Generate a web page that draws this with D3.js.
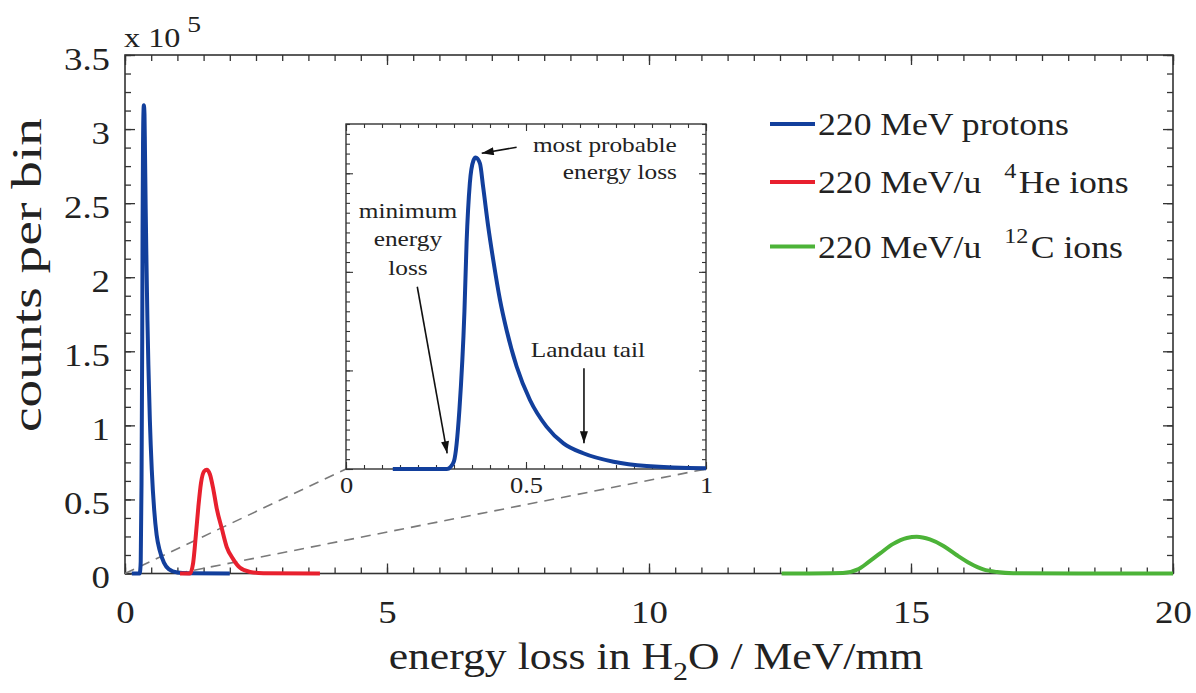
<!DOCTYPE html>
<html><head><meta charset="utf-8">
<script src="https://cdn.jsdelivr.net/npm/d3@7"></script>
<style>
body{margin:0;background:#fff}
svg{display:block}
text{font-family:"Liberation Serif","Times New Roman",serif;fill:#222}
</style>
</head><body>
<svg id="chart" width="1196" height="693"></svg>
<script>
// ---------------- data ----------------
const seriesNames = ["220 MeV protons", "220 MeV/u 4He ions", "220 MeV/u 12C ions"];
const seriesColors = ["#123f9c", "#e8202e", "#4cb338"];

// energy loss (MeV/mm) and counts per bin (x 10^5)
const protonsE      = [0.13, 0.28, 0.29, 0.30, 0.315, 0.329, 0.335, 0.344, 0.354, 0.36, 0.372, 0.381, 0.395, 0.409, 0.428, 0.446, 0.474, 0.511, 0.557, 0.604, 0.659, 0.743, 0.835, 1.0, 1.2, 2.0];
const protonsCounts = [0, 0, 0.02, 0.08, 0.6, 1.6, 2.3, 2.9, 3.13, 3.16, 3.10, 2.86, 2.46, 2.12, 1.71, 1.41, 1.04, 0.70, 0.43, 0.26, 0.16, 0.074, 0.03, 0.007, 0.002, 0];

const heliumE      = [1.05, 1.24, 1.30, 1.355, 1.40, 1.45, 1.51, 1.56, 1.62, 1.685, 1.75, 1.85, 1.94, 2.07, 2.19, 2.39, 2.64, 3.72];
const heliumCounts = [0, 0, 0.07, 0.27, 0.45, 0.61, 0.69, 0.70, 0.67, 0.57, 0.44, 0.30, 0.18, 0.094, 0.04, 0.01, 0.002, 0];

const carbonE      = [12.53, 13.7, 14.0, 14.2, 14.41, 14.66, 14.92, 15.11, 15.36, 15.62, 15.87, 16.13, 16.38, 16.64, 16.95, 20.0];
const carbonCounts = [0, 0.004, 0.03, 0.08, 0.136, 0.20, 0.24, 0.248, 0.23, 0.186, 0.125, 0.068, 0.028, 0.01, 0.002, 0];

const xTicksMain = [0, 5, 10, 15, 20];
const yTicksMain = [0, 0.5, 1, 1.5, 2, 2.5, 3, 3.5];
const xTicksInset = [0, 0.5, 1];

const xLabel = ["energy loss in H", "2", "O / MeV/mm"];
const yLabel = "counts per bin";
const multiplier = ["x 10", "5"];
const annotations = [
  {lines: ["most probable", "energy loss"], tx: 0.919, ty: [3.216, 2.942], anchor: "end", from: [0.474, 3.264], to: [0.377, 3.203]},
  {lines: ["minimum", "energy", "loss"], tx: 0.172, ty: [2.546, 2.262, 1.968], anchor: "middle", from: [0.198, 1.849], to: [0.281, 0.159]},
  {lines: ["Landau tail"], tx: 0.672, ty: [1.136], anchor: "middle", from: [0.661, 1.022], to: [0.661, 0.261]}
];

// ---------------- layout ----------------
const SX = 1.15; // horizontal glyph stretch of the reference typesetting
const svg = d3.select("#chart");
const M = {left: 125, right: 1173, top: 55, bottom: 573.5};
const I = {left: 346, right: 706, top: 124, bottom: 469};

const x = d3.scaleLinear().domain([0, 20]).range([M.left, M.right]);
const y = d3.scaleLinear().domain([0, 3.5]).range([M.bottom, M.top]);
const xi = d3.scaleLinear().domain([0, 1]).range([I.left, I.right]);
const yi = d3.scaleLinear().domain([0, 3.5]).range([I.bottom, I.top]);

const frameColor = "#333";

function stext(parent, px, py, str, size, anchor) {
  return parent.append("text")
    .attr("transform", `translate(${px},${py}) scale(${SX},1)`)
    .attr("font-size", size)
    .attr("text-anchor", anchor || "start")
    .text(str);
}

function tickSet(g, axisFn, scale, values, size, width) {
  const a = g.append("g").call(axisFn(scale).tickValues(values).tickSize(size).tickFormat(""));
  a.select(".domain").remove();
  a.selectAll("line").attr("stroke", frameColor).attr("stroke-width", width);
  return a;
}

function frameTicks(g, xs, ys, box, xMinor, yMinor, xMajor, yMajor, majLen, minLen, w) {
  const bottom = g.append("g").attr("transform", `translate(0,${box.bottom})`);
  const top = g.append("g").attr("transform", `translate(0,${box.top})`);
  const left = g.append("g").attr("transform", `translate(${box.left},0)`);
  const right = g.append("g").attr("transform", `translate(${box.right},0)`);
  tickSet(bottom, d3.axisBottom, xs, xMinor, -minLen, w);
  tickSet(bottom, d3.axisBottom, xs, xMajor, -majLen, w);
  tickSet(top, d3.axisTop, xs, xMinor, -minLen, w);
  tickSet(top, d3.axisTop, xs, xMajor, -majLen, w);
  tickSet(left, d3.axisLeft, ys, yMinor, -minLen, w);
  tickSet(left, d3.axisLeft, ys, yMajor, -majLen, w);
  tickSet(right, d3.axisRight, ys, yMinor, -minLen, w);
  tickSet(right, d3.axisRight, ys, yMajor, -majLen, w);
}

const rng = (a, b, s) => d3.range(0, Math.round((b - a) / s) + 1).map(i => +(a + i * s).toFixed(4));

// ---------------- main frame ----------------
const main = svg.append("g");
main.append("rect").attr("x", M.left).attr("y", M.top)
  .attr("width", M.right - M.left).attr("height", M.bottom - M.top)
  .attr("fill", "none").attr("stroke", frameColor).attr("stroke-width", 1.6);
frameTicks(main, x, y, M, rng(0, 20, 0.5), rng(0, 3.5, 0.125), xTicksMain, yTicksMain, 10, 6, 1.3);

// tick labels via axes
const xLab = main.append("g").attr("transform", `translate(0,${M.bottom})`)
  .call(d3.axisBottom(x).tickValues(xTicksMain).tickSize(0).tickFormat(d3.format("~g")));
xLab.select(".domain").remove();
xLab.selectAll("text").attr("y", 50).attr("dy", null).attr("font-size", 32)
  .attr("font-family", null).attr("fill", "#222").attr("transform", `scale(${SX},1)`);

const yLab = main.append("g").attr("transform", `translate(${M.left},0)`)
  .call(d3.axisLeft(y).tickValues(yTicksMain).tickSize(0).tickFormat(d3.format("~g")));
yLab.select(".domain").remove();
yLab.selectAll("text").attr("x", -15 / SX).attr("y", 14).attr("dy", null).attr("font-size", 32)
  .attr("font-family", null).attr("fill", "#222").attr("transform", `scale(${SX},1)`);

// multiplier
const mt = stext(main, 124, 47, multiplier[0], 28, "start");
mt.append("tspan").attr("font-size", 24).attr("dy", -15).attr("dx", 6).text(multiplier[1]);

// axis titles
const xt = stext(main, 656, 669, "", 38, "middle");
xt.append("tspan").text(xLabel[0]);
xt.append("tspan").attr("font-size", 26).attr("dy", 11).text(xLabel[1]);
xt.append("tspan").attr("dy", -11).text(xLabel[2]);

main.append("text")
  .attr("transform", `translate(41,275) rotate(-90) scale(1,1.12)`)
  .attr("font-size", 37).attr("text-anchor", "middle")
  .attr("textLength", 314).attr("lengthAdjust", "spacingAndGlyphs")
  .text(yLabel);

// ---------------- zoom guide lines ----------------
main.append("line").attr("x1", x(0)).attr("y1", y(0)).attr("x2", xi(0)).attr("y2", yi(0))
  .attr("stroke", "#7a7a7a").attr("stroke-width", 1.6).attr("stroke-dasharray", "10,7");
main.append("line").attr("x1", x(1)).attr("y1", y(0)).attr("x2", xi(1)).attr("y2", yi(0))
  .attr("stroke", "#7a7a7a").attr("stroke-width", 1.6).attr("stroke-dasharray", "10,7");

// ---------------- curves ----------------
const series = [
  d3.zip(protonsE, protonsCounts),
  d3.zip(heliumE, heliumCounts),
  d3.zip(carbonE, carbonCounts)
];
const line = d3.line().x(d => x(d[0])).y(d => y(d[1])).curve(d3.curveMonotoneX);
series.forEach((s, i) => {
  main.append("path").datum(s).attr("d", line)
    .attr("fill", "none").attr("stroke", seriesColors[i]).attr("stroke-width", 4)
    .attr("stroke-linejoin", "round").attr("stroke-linecap", "butt");
});

// ---------------- legend ----------------
const legendY = [124, 182, 246.5];
const legendParts = [[seriesNames[0]], ["220 MeV/u", "4", "He ions"], ["220 MeV/u", "12", "C ions"]];
legendParts.forEach((parts, i) => {
  main.append("line").attr("x1", 770).attr("x2", 815).attr("y1", legendY[i]).attr("y2", legendY[i])
    .attr("stroke", seriesColors[i]).attr("stroke-width", 4);
  const t = stext(main, 818, legendY[i] + 11, "", 31, "start");
  t.append("tspan").text(parts[0]);
  if (parts.length > 1) {
    t.append("tspan").attr("font-size", 21).attr("dy", -15).attr("dx", 20).text(parts[1]);
    t.append("tspan").attr("dy", 15).attr("dx", 2).text(parts[2]);
  }
});

// ---------------- inset ----------------
const inset = svg.append("g");
inset.append("rect").attr("x", I.left).attr("y", I.top)
  .attr("width", I.right - I.left).attr("height", I.bottom - I.top)
  .attr("fill", "#fff").attr("stroke", frameColor).attr("stroke-width", 1.4);
frameTicks(inset, xi, yi, I, rng(0, 1, 0.05), rng(0, 3.5, 0.1), xTicksInset, [0, 1, 2, 3], 7, 4, 1.1);

const xiLab = inset.append("g").attr("transform", `translate(0,${I.bottom})`)
  .call(d3.axisBottom(xi).tickValues(xTicksInset).tickSize(0).tickFormat(d3.format("~g")));
xiLab.select(".domain").remove();
xiLab.selectAll("text").attr("y", 24).attr("dy", null).attr("font-size", 23)
  .attr("font-family", null).attr("fill", "#222").attr("transform", `scale(${SX},1)`);

svg.append("clipPath").attr("id", "insetClip").append("rect")
  .attr("x", I.left).attr("y", I.top - 5).attr("width", I.right - I.left).attr("height", I.bottom - I.top + 10);
const iline = d3.line().x(d => xi(d[0])).y(d => yi(d[1])).curve(d3.curveMonotoneX);
inset.append("path").datum(series[0].filter(d => d[0] <= 1.2)).attr("d", iline)
  .attr("clip-path", "url(#insetClip)")
  .attr("fill", "none").attr("stroke", seriesColors[0]).attr("stroke-width", 4).attr("stroke-linejoin", "round");

// arrows
const defs = svg.append("defs");
defs.append("marker").attr("id", "arr").attr("viewBox", "0 0 12 8").attr("refX", 12).attr("refY", 4)
  .attr("markerWidth", 13).attr("markerHeight", 8).attr("markerUnits", "userSpaceOnUse").attr("orient", "auto")
  .append("path").attr("d", "M0,0 L12,4 L0,8 Z").attr("fill", "#111");

annotations.forEach(a => {
  a.lines.forEach((l, k) => stext(inset, xi(a.tx), yi(a.ty[k]), l, 22, a.anchor));
  inset.append("line").attr("x1", xi(a.from[0])).attr("y1", yi(a.from[1]))
    .attr("x2", xi(a.to[0])).attr("y2", yi(a.to[1]))
    .attr("stroke", "#111").attr("stroke-width", 1.6).attr("marker-end", "url(#arr)");
});
</script>
</body></html>
